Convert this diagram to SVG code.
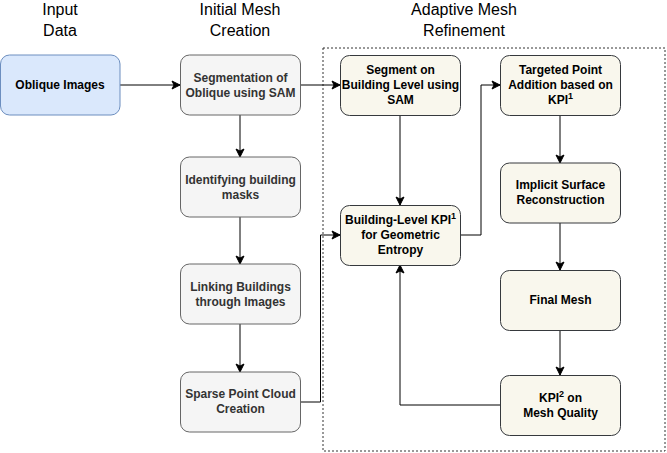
<svg xmlns="http://www.w3.org/2000/svg" width="667" height="453" viewBox="0 0 667 453">
<style>
.hdr{font-family:"Liberation Sans",Arial,sans-serif;font-size:16px;fill:#000;text-anchor:middle}
.t{font-family:"Liberation Sans",Arial,sans-serif;font-size:12px;font-weight:bold;text-anchor:middle}
.g rect{fill:#f5f5f5;stroke:#666666;stroke-width:1}
.g text{fill:#333333}
.b rect{fill:#dae8fc;stroke:#6c8ebf;stroke-width:1}
.b text{fill:#000}
.y rect{fill:#f9f7ed;stroke:#36393d;stroke-width:1}
.y text{fill:#000}
.c path{fill:none;stroke:#000;stroke-width:1;marker-end:url(#arr)}
.sup{font-size:9px}
</style>
<defs>
<marker id="arr" viewBox="0 0 10 10" refX="9" refY="5" markerWidth="10" markerHeight="10" markerUnits="userSpaceOnUse" orient="auto">
<path d="M1,1 L9,5 L1,9 L3,5 z" fill="#000" stroke="#000" stroke-width="1"/>
</marker>
</defs>
<rect width="667" height="453" fill="#ffffff"/>
<g id="headers">
<text class="hdr" x="60" y="15">Input</text>
<text class="hdr" x="60" y="36">Data</text>
<text class="hdr" x="240" y="15">Initial Mesh</text>
<text class="hdr" x="240" y="36">Creation</text>
<text class="hdr" x="464" y="15">Adaptive Mesh</text>
<text class="hdr" x="464" y="36">Refinement</text>
</g>
<g id="container">
<rect x="323" y="48" width="342" height="403" fill="none" stroke="#333333" stroke-width="1" stroke-dasharray="2,2"/>
</g>
<g id="connectors" class="c">
<path d="M120,85 L180,85"/>
<path d="M300,85 L340,85"/>
<path d="M240,115 L240,157"/>
<path d="M240,217 L240,264"/>
<path d="M240,324 L240,372"/>
<path d="M300,402 L320.5,402 L320.5,235 L340,235"/>
<path d="M400,115 L400,205"/>
<path d="M460,235 L481,235 L481,85 L500,85"/>
<path d="M560,115 L560,163"/>
<path d="M560,223 L560,270"/>
<path d="M560,330 L560,375"/>
<path d="M500,405 L400,405 L400,265"/>
</g>
<g id="oblique-images" class="b">
<rect x="0.5" y="55" width="119.5" height="60" rx="9"/>
<text class="t" x="60" y="89">Oblique Images</text>
</g>
<g id="segmentation" class="g">
<rect x="180.5" y="55" width="120" height="60" rx="9"/>
<text class="t" x="240.5" y="82">Segmentation of</text>
<text class="t" x="240.5" y="97">Oblique using SAM</text>
</g>
<g id="identifying" class="g">
<rect x="180.5" y="157" width="120" height="60" rx="9"/>
<text class="t" x="240.5" y="184">Identifying building</text>
<text class="t" x="240.5" y="199">masks</text>
</g>
<g id="linking" class="g">
<rect x="180.5" y="264" width="120" height="60" rx="9"/>
<text class="t" x="240.5" y="291">Linking Buildings</text>
<text class="t" x="240.5" y="306">through Images</text>
</g>
<g id="sparse" class="g">
<rect x="180.5" y="372" width="120" height="60" rx="9"/>
<text class="t" x="240.5" y="398">Sparse Point Cloud</text>
<text class="t" x="240.5" y="413">Creation</text>
</g>
<g id="segment-building" class="y">
<rect x="340.5" y="55.5" width="120" height="60" rx="9"/>
<text class="t" x="400.5" y="74">Segment on</text>
<text class="t" x="400.5" y="89">Building Level using</text>
<text class="t" x="400.5" y="104">SAM</text>
</g>
<g id="building-kpi" class="y">
<rect x="340.5" y="205.5" width="120" height="60" rx="9"/>
<text class="t" x="400.5" y="224">Building-Level KPI<tspan class="sup" dy="-5">1</tspan></text>
<text class="t" x="400.5" y="239">for Geometric</text>
<text class="t" x="400.5" y="254">Entropy</text>
</g>
<g id="targeted" class="y">
<rect x="500.5" y="55.5" width="120" height="60" rx="9"/>
<text class="t" x="560.5" y="74">Targeted Point</text>
<text class="t" x="560.5" y="89">Addition based on</text>
<text class="t" x="560.5" y="104">KPI<tspan class="sup" dy="-5">1</tspan></text>
</g>
<g id="implicit" class="y">
<rect x="500.5" y="163" width="120" height="60" rx="9"/>
<text class="t" x="560.5" y="189">Implicit Surface</text>
<text class="t" x="560.5" y="204">Reconstruction</text>
</g>
<g id="final-mesh" class="y">
<rect x="500.5" y="270.5" width="120" height="60" rx="9"/>
<text class="t" x="560.5" y="304">Final Mesh</text>
</g>
<g id="kpi2" class="y">
<rect x="500.5" y="375.5" width="120" height="60" rx="9"/>
<text class="t" x="560.5" y="402">KPI<tspan class="sup" dy="-5">2</tspan><tspan dy="5"> on</tspan></text>
<text class="t" x="560.5" y="417">Mesh Quality</text>
</g>
</svg>
